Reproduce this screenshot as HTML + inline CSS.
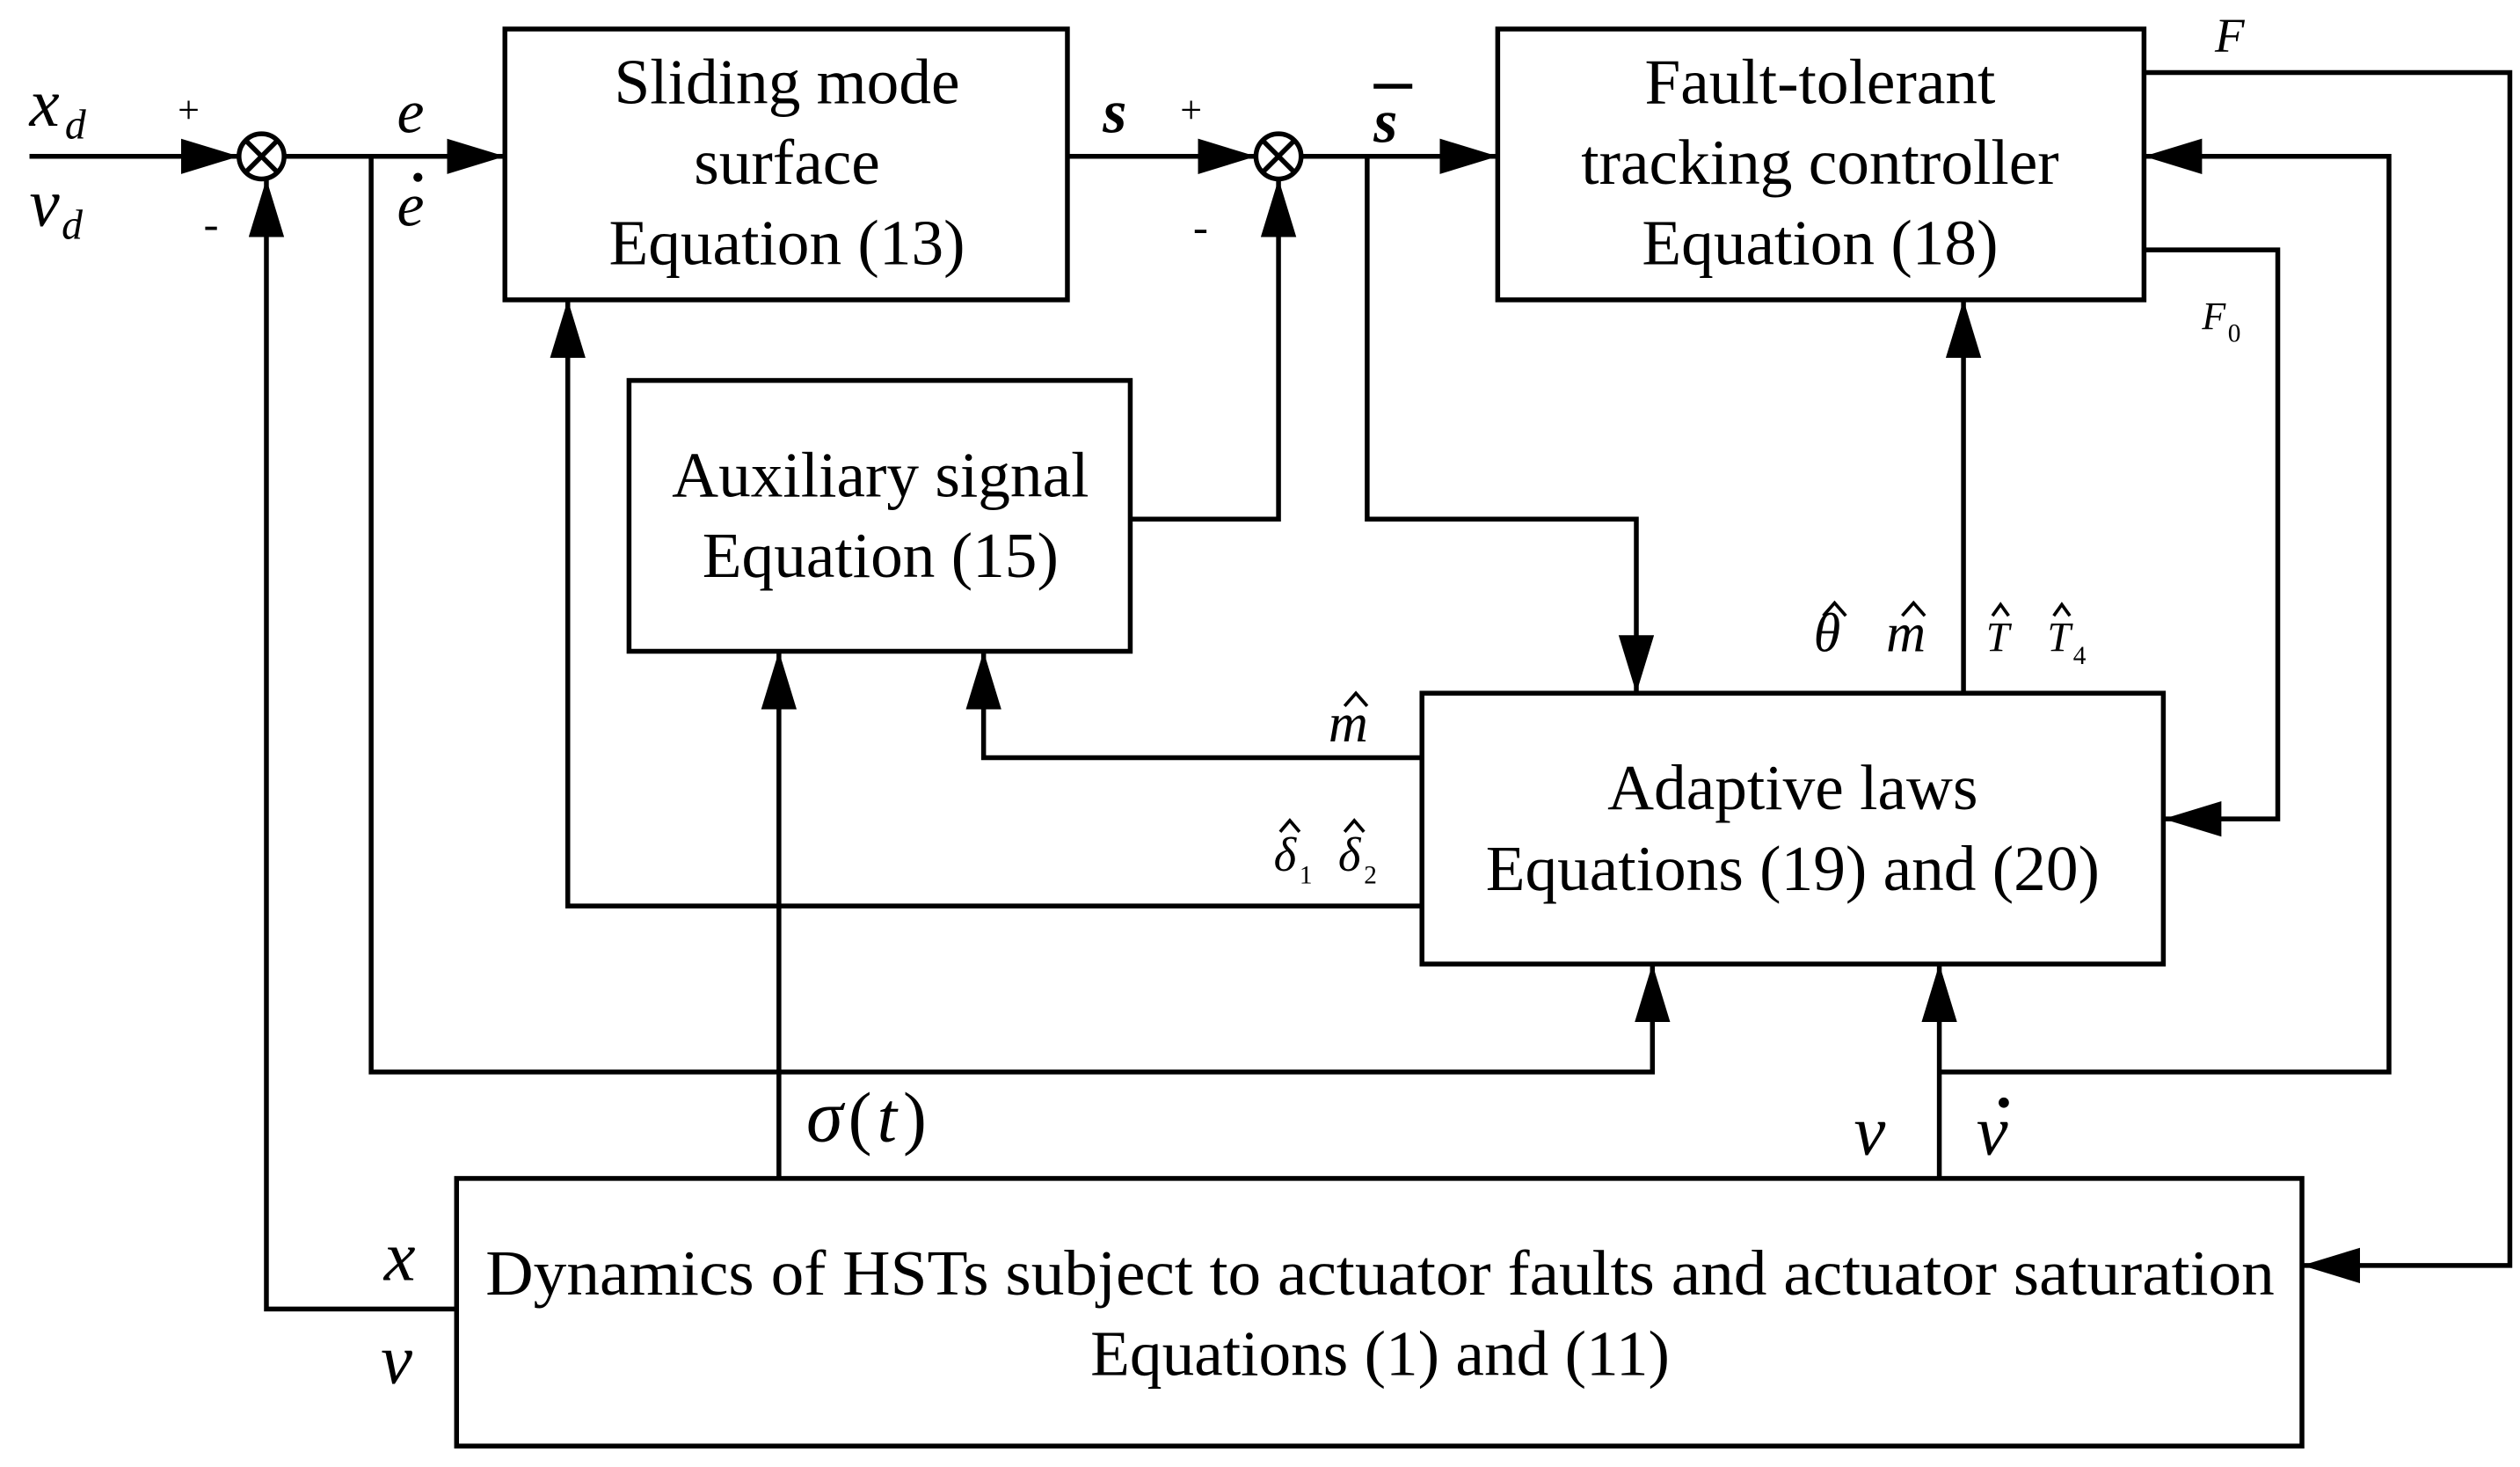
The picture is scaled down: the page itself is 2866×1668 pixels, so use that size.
<!DOCTYPE html>
<html><head><meta charset="utf-8"><style>
html,body{margin:0;padding:0;background:#fff;}
svg{display:block;}
text{font-family:"Liberation Serif",serif;fill:#000;}
</style></head><body>
<svg width="2866" height="1668" viewBox="0 0 1563 910" xmlns="http://www.w3.org/2000/svg">
<defs>
<marker id="a" markerUnits="userSpaceOnUse" markerWidth="40" markerHeight="24" refX="36" refY="11" orient="auto">
<path d="M0,0 L36,11 L0,22 Z" fill="#000"/>
</marker>
</defs>
<g fill="none" stroke="#000" stroke-width="3">
<rect x="313" y="18" width="349" height="168"/>
<rect x="929" y="18" width="401" height="168"/>
<rect x="390" y="236" width="311" height="168"/>
<rect x="882" y="430" width="460" height="168"/>
<rect x="283" y="731" width="1145" height="166"/>
<circle cx="162" cy="97" r="14"/>
<path d="M152,87 L172,107 M172,87 L152,107"/>
<circle cx="793" cy="97" r="14"/>
<path d="M783,87 L803,107 M803,87 L783,107"/>
<path d="M18,97 H148" marker-end="url(#a)"/>
<path d="M176,97 H313" marker-end="url(#a)"/>
<path d="M230,97 V665 H1025 V598" marker-end="url(#a)"/>
<path d="M662,97 H779" marker-end="url(#a)"/>
<path d="M807,97 H929" marker-end="url(#a)"/>
<path d="M848,97 V322 H1015 V430" marker-end="url(#a)"/>
<path d="M701,322 H793 V111" marker-end="url(#a)"/>
<path d="M1330,45 H1557 V785 H1428" marker-end="url(#a)"/>
<path d="M1330,155 H1413 V508 H1342" marker-end="url(#a)"/>
<path d="M1203,665 H1482 V97 H1330" marker-end="url(#a)"/>
<path d="M1218,430 V186" marker-end="url(#a)"/>
<path d="M882,470 H610 V404" marker-end="url(#a)"/>
<path d="M882,562 H352 V186" marker-end="url(#a)"/>
<path d="M483,731 V404" marker-end="url(#a)"/>
<path d="M1203,731 V598" marker-end="url(#a)"/>
<path d="M283,812 H165 V111" marker-end="url(#a)"/>
</g>
<g font-size="40" text-anchor="middle">
<text x="488" y="64">Sliding mode</text>
<text x="488" y="114">surface</text>
<text x="488" y="164">Equation (13)</text>
<text x="1129" y="64">Fault-tolerant</text>
<text x="1129" y="114">tracking controller</text>
<text x="1129" y="164">Equation (18)</text>
<text x="546" y="308">Auxiliary signal</text>
<text x="546" y="358">Equation (15)</text>
<text x="1112" y="502">Adaptive laws</text>
<text x="1112" y="552">Equations (19) and (20)</text>
<text x="856" y="803" textLength="1110" lengthAdjust="spacingAndGlyphs">Dynamics of HSTs subject to actuator faults and actuator saturation</text>
<text x="856" y="853">Equations (1) and (11)</text>
</g>
<g font-style="italic">
<text x="18" y="78" font-size="42">x</text><text x="40" y="86" font-size="26">d</text>
<text x="18" y="140" font-size="42">v</text><text x="38" y="148" font-size="26">d</text>
<text x="110" y="76" font-size="24" font-style="normal">+</text>
<text x="126" y="148" font-size="28" font-style="normal">-</text>
<text x="246" y="82" font-size="38">e</text>
<text x="246" y="140" font-size="38">e</text>
<text x="684" y="82" font-size="38" font-weight="bold">s</text>
<text x="732" y="76" font-size="24" font-style="normal">+</text>
<text x="740" y="150" font-size="28" font-style="normal">-</text>
<text x="852" y="88" font-size="38" font-weight="bold">s</text>
<text x="1374" y="32" font-size="30">F</text>
<text x="1366" y="204" font-size="24">F</text><text x="1382" y="212" font-size="16" font-style="normal">0</text>
<text x="1125" y="404" font-size="34">θ</text>
<text x="1170" y="404" font-size="34">m</text>
<text x="1232" y="404" font-size="26">T</text>
<text x="1270" y="404" font-size="26">T</text><text x="1286" y="412" font-size="16" font-style="normal">4</text>
<text x="824" y="460" font-size="34">m</text>
<text x="790" y="540" font-size="30">δ</text><text x="806" y="548" font-size="16" font-style="normal">1</text>
<text x="830" y="540" font-size="30">δ</text><text x="846" y="548" font-size="16" font-style="normal">2</text>
<text x="500" y="708" font-size="46">σ</text><text x="526" y="708" font-size="44" font-style="normal">(</text><text x="544" y="708" font-size="44">t</text><text x="560" y="708" font-size="44" font-style="normal">)</text>
<text x="1150" y="716" font-size="44">v</text>
<text x="1226" y="716" font-size="44">v</text>
<text x="238" y="794" font-size="44">x</text>
<text x="236" y="858" font-size="44">v</text>
</g>
<g fill="#000">
<rect x="852" y="52" width="24" height="3"/>
<circle cx="259" cy="110" r="2.8"/>
<circle cx="1243" cy="684" r="3.2"/>
</g>
<g fill="none" stroke="#000" stroke-width="2">
<path d="M1131,382 L1138,374 L1145,382"/>
<path d="M1180,382 L1187,374 L1194,382"/>
<path d="M1236,382 L1241,375 L1246,382"/>
<path d="M1274,382 L1279,375 L1284,382"/>
<path d="M834,438 L841,430 L848,438"/>
<path d="M794,516 L800,509 L806,516"/>
<path d="M834,516 L840,509 L846,516"/>
</g>
</svg>
</body></html>
